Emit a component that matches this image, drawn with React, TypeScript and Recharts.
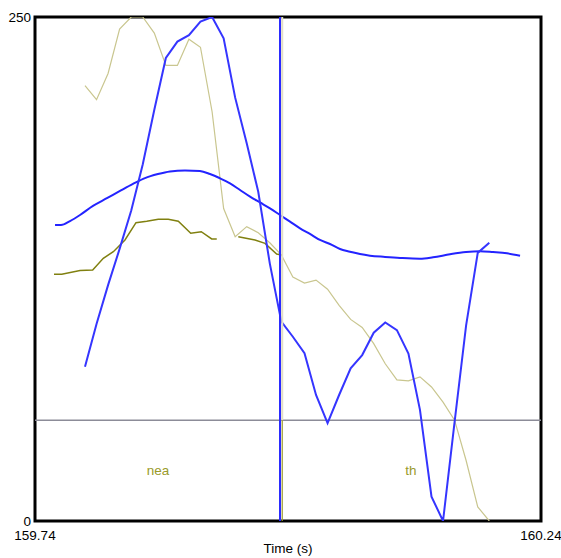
import {
  LineChart,
  Line,
  XAxis,
  YAxis,
  ReferenceLine,
  ReferenceArea,
  ReferenceDot,
} from "recharts";

// shared frame times (s) for pitch and formant tracks
const frameTimes = [
  159.7894, 159.8008, 159.8122, 159.8236, 159.8351, 159.8465, 159.8579, 159.8693,
  159.8807, 159.8921, 159.9035, 159.915, 159.9264, 159.9378, 159.9492, 159.9606,
  159.972, 159.9834, 159.9948, 160.0063, 160.0177, 160.0291, 160.0405, 160.0519,
  160.0633, 160.0747, 160.0861, 160.0976, 160.109, 160.1204, 160.1318, 160.1432,
  160.1546, 160.166, 160.1775, 160.1889,
];

const pitchValues = [
  76.5, 97.7, 117, 135, 154, 177, 204, 229.7, 237.8, 241, 247.7, 250, 239.4, 210,
  187.4, 163.3, 127.8, 98.9, 91.4, 83.2, 62.5, 48.5, 62.5, 75.7, 82.3, 93.4, 98.5,
  94.7, 83.1, 55.1, 12.1, 0, 49, 97, 133, 138,
];

const formantValues = [
  216, 209, 222, 244, 250, 250, 242, 226, 226, 239, 235, 203, 155, 141, 146, 143,
  138, 132, 121, 118, 119.5, 115, 107, 100, 96, 88, 78, 70, 69.5, 71.5, 66.5, 59,
  50, 30, 7, 0,
];

const intensityTimes = [
  159.7598, 159.7657, 159.7746, 159.7845, 159.7973, 159.8111, 159.824, 159.8368,
  159.8487, 159.8615, 159.8734, 159.8882, 159.903, 159.9129, 159.9228, 159.9327,
  159.9426, 159.9525, 159.9623, 159.9722, 159.9821, 159.992, 160.0019, 160.0117,
  160.0216, 160.0315, 160.0414, 160.0513, 160.0611, 160.071, 160.0859, 160.1007,
  160.1204, 160.1333, 160.1501, 160.1659, 160.1797, 160.1926, 160.2064, 160.2193,
];

const intensityValues = [
  146.8, 146.8, 148.8, 151.8, 156.3, 160.1, 163.7, 167.2, 170.1, 172.1, 173.4,
  173.9, 173.6, 172.1, 170, 167.5, 164.2, 160.9, 158, 155.1, 151.8, 148.5, 145.2,
  142.4, 139.4, 137.4, 134.9, 133.6, 132.4, 131.6, 131, 130.5, 130.1, 130.8, 132.3,
  133.4, 133.8, 133.4, 132.8, 131.6,
];

const oliveTimes = [
  159.7588, 159.7664, 159.7845, 159.797, 159.8075, 159.8174, 159.8289, 159.8398,
  159.8504, 159.8618, 159.8717, 159.8816, 159.8939, 159.9043, 159.9146, 159.9196,
  159.928, 159.9409, 159.9574, 159.9673, 159.9788, 159.9838,
];

const oliveValues = [
  122.4, 122.4, 124.2, 124.5, 130.3, 133.6, 139.4, 148, 148.7, 149.7, 149.7, 148.7,
  142.7, 143.5, 139.9, 139.9, null, 141, 139.4, 137.7, 132.4, 131.9,
];

const xTicks = [159.74, 160.24];
const yTicks = [0, 250];

const cursorTime = 159.9821;
const selectionTime = 159.9843;
const levelValue = 50;

const labelTexts = ["nea", "th"];
const labelTimes = [159.8615, 160.1115];
const labelValues = [25, 25];

const pitchData = frameTimes.map((t, i) => ({ t, v: pitchValues[i] }));
const formantData = frameTimes.map((t, i) => ({ t, v: formantValues[i] }));
const intensityData = intensityTimes.map((t, i) => ({ t, v: intensityValues[i] }));
const oliveData = oliveTimes.map((t, i) => ({ t, v: oliveValues[i] }));

const font = "'Liberation Sans', Arial, sans-serif";
const fs = 13.5;

export default function App() {
  return (
    <div style={{ position: "absolute", left: 0, top: 0, fontFamily: font }}>
      <LineChart
        width={561}
        height={558}
        margin={{ top: 17, right: 20, left: 0, bottom: 0 }}
      >
        <XAxis
          dataKey="t"
          type="number"
          domain={[159.74, 160.24]}
          allowDataOverflow
          ticks={xTicks}
          interval={0}
          tickFormatter={(v: number) => v.toFixed(2)}
          axisLine={false}
          tickLine={false}
          tickSize={0}
          tickMargin={9}
          height={37}
          tick={{ fontSize: fs, fill: "#000", fontFamily: font }}
          label={{
            value: "Time (s)",
            position: "insideBottom",
            offset: 5,
            style: { fontSize: fs, fill: "#000", fontFamily: font },
          }}
        />
        <YAxis
          type="number"
          domain={[0, 250]}
          allowDataOverflow
          ticks={yTicks}
          interval={0}
          axisLine={false}
          tickLine={false}
          tickSize={0}
          tickMargin={4}
          width={35}
          tick={{ fontSize: fs, fill: "#000", fontFamily: font }}
        />
        <ReferenceLine y={levelValue} stroke="#8c8c98" strokeWidth={1.5} />
        <Line
          data={formantData}
          dataKey="v"
          stroke="#c9c68f"
          strokeWidth={1.2}
          dot={false}
          isAnimationActive={false}
        />
        <Line
          data={oliveData}
          dataKey="v"
          stroke="#808010"
          strokeWidth={1.5}
          dot={false}
          connectNulls={false}
          isAnimationActive={false}
        />
        <Line
          data={intensityData}
          dataKey="v"
          type="monotone"
          stroke="#2323ff"
          strokeWidth={2}
          dot={false}
          isAnimationActive={false}
        />
        <Line
          data={pitchData}
          dataKey="v"
          stroke="#3535ff"
          strokeWidth={2}
          dot={false}
          isAnimationActive={false}
        />
        <ReferenceLine
          segment={[
            { x: selectionTime, y: levelValue },
            { x: selectionTime, y: 250 },
          ]}
          stroke="#e2dec4"
          strokeWidth={2}
        />
        <ReferenceLine
          segment={[
            { x: selectionTime, y: 0 },
            { x: selectionTime, y: levelValue },
          ]}
          stroke="#9a9a2a"
          strokeWidth={1.2}
        />
        <ReferenceLine x={cursorTime} stroke="#2b2bff" strokeWidth={2} />
        {labelTexts.map((txt, i) => (
          <ReferenceDot
            key={txt}
            x={labelTimes[i]}
            y={labelValues[i]}
            r={0}
            fill="none"
            stroke="none"
            label={{
              value: txt,
              position: "center",
              style: { fontSize: fs, fill: "#9a9a2a", fontFamily: font },
            }}
          />
        ))}
        <ReferenceArea
          x1={159.74}
          x2={160.24}
          y1={0}
          y2={250}
          fill="none"
          stroke="#000"
          strokeWidth={3}
          ifOverflow="visible"
        />
      </LineChart>
    </div>
  );
}
